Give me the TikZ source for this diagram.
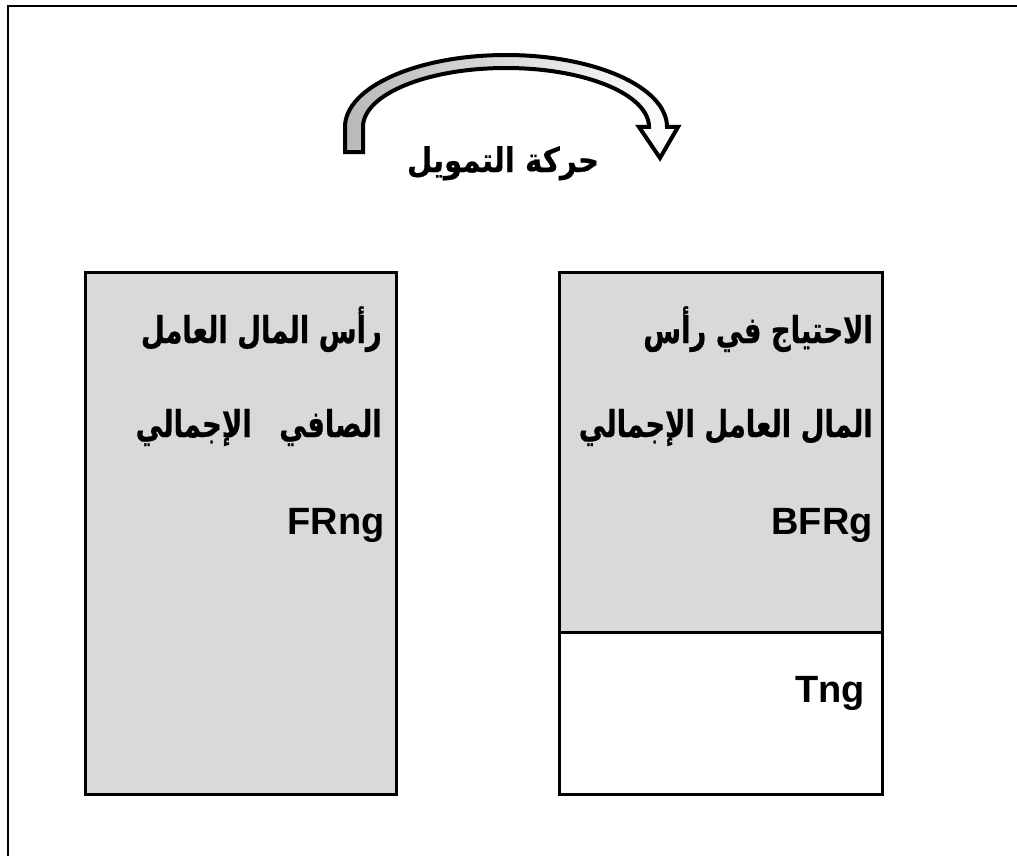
\documentclass[tikz,border=0pt]{standalone}
\usepackage{fontspec}
\setmainfont{Liberation Sans}
\newfontfamily\arabicfont[Script=Arabic,FakeStretch=0.74,FakeBold=0.6]{DejaVu Sans}
\newfontfamily\arabictitlefont[Script=Arabic,FakeStretch=0.86,FakeBold=0.4]{DejaVu Sans}
\TeXXeTstate=1
\definecolor{boxgray}{RGB}{217,217,217}
\definecolor{bandgray}{RGB}{185,185,185}
\begin{document}
\begin{tikzpicture}[x=1pt,y=-1pt,
  panel/.style={draw=black,line width=2.5pt,inner sep=0pt,anchor=north west},
  artxt/.style={font=\arabicfont\bfseries\fontsize{37}{44}\selectfont,anchor=base east,inner sep=0pt},
  latxt/.style={font=\bfseries\fontsize{38}{44}\selectfont,anchor=base east,inner sep=0pt},
  artitle/.style={font=\arabictitlefont\bfseries\fontsize{34}{40}\selectfont,anchor=base,inner sep=0pt}]
\useasboundingbox (0,0) rectangle (1017,856);

% outer frame (top and left edges)
\draw[line width=2pt] (7.5,856) -- (7.5,6.5) -- (1017,6.5);

% left panel
\node[panel,fill=boxgray,minimum width=311,minimum height=522] (fr) at (84,271) {};
% right panel: upper and lower parts
\node[panel,fill=boxgray,minimum width=323,minimum height=360] (bfr) at (558,271) {};
\node[panel,fill=white,minimum width=323,minimum height=162] (tn) at (558,631) {};

% curved block arrow
\draw[line width=4pt,line join=miter,left color=bandgray,right color=white]
  (345,152) -- (345,127)
  arc[start angle=180,end angle=360,x radius=161,y radius=72]
  -- (678,127) -- (660,158) -- (639,127) -- (649,127)
  arc[start angle=360,end angle=180,x radius=143,y radius=59]
  -- (363,152) -- cycle;

% title
\node[artitle] (title) at (503,172) {\beginR حركة التمويل\endR};

% left panel text
\node[artxt] (fr1) at (382,343) {\beginR رأس المال العامل\endR};
\node[artxt] (fr2) at (382,437) {\beginR الصافي\hspace{18pt} الإجمالي\endR};
\node[latxt] (fr3) at (385,534) {FRng};

% right panel text
\node[artxt] (bf1) at (873,343) {\beginR الاحتياج في رأس\endR};
\node[artxt] (bf2) at (873,437) {\beginR المال العامل الإجمالي\endR};
\node[latxt] (bf3) at (873,534) {BFRg};
\node[latxt] (tn1) at (865,702) {Tng};
\end{tikzpicture}
\end{document}
